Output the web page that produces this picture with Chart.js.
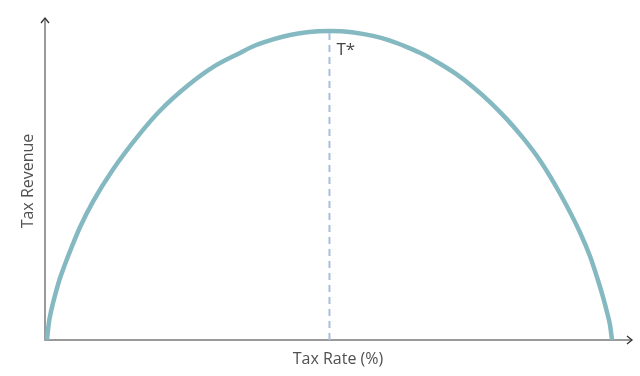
<!DOCTYPE html>
<html lang="en">
<head>
  <meta charset="UTF-8">
  <title>Laffer curve</title>
  <script src="https://cdn.jsdelivr.net/npm/chart.js"></script>
  <style>
    html, body { margin: 0; padding: 0; background: #fff; }
    .wrap { width: 640px; height: 376px; position: relative; }
  </style>
</head>
<body>
  <div class="wrap">
    <canvas id="mychart"></canvas>
  </div>
  <script>
    // tax rate (%) and revenue (% of peak)
    const taxRate = [0, 0.35, 0.71, 1.06, 1.59, 2.3, 3.19, 4.42, 5.84, 8.14, 11.68, 16.46, 20.0, 25.31, 29.38,
                     34.16, 36.81, 40.0, 43.01, 46.02, 47.96, 50.0, 52.04, 53.98, 57.7, 60.71, 63.72, 66.55,
                     69.56, 72.39, 75.4, 78.41, 81.42, 84.25, 87.26, 90.8, 94.34, 96.11, 97.35, 98.41, 99.12,
                     99.65, 100];
    const revenue = [0, 5.8, 9.2, 11.9, 15.6, 20.0, 24.5, 30.3, 36.5, 44.8, 55.2, 66.8, 74.2, 82.9, 88.3,
                     92.9, 95.3, 97.3, 98.7, 99.6, 99.9, 100, 99.9, 99.6, 98.4, 96.9, 94.8, 92.5,
                     89.4, 86.1, 81.9, 77.0, 71.4, 65.4, 58.1, 47.4, 34.8, 27.1, 20.3, 13.9, 9.0,
                     4.8, 0];
    const optimumRate = 50;
    const optimumLabel = 'T*';
    const xTitle = 'Tax Rate (%)';
    const yTitle = 'Tax Revenue';

    const curve = taxRate.map((x, i) => ({ x: x, y: revenue[i] }));
    const peak = [{ x: optimumRate, y: 0 }, { x: optimumRate, y: Math.max(...revenue) }];

    // axes with arrow heads, titles and the T* label
    const decor = {
      id: 'decor',
      beforeDatasetsDraw(chart) {
        const { ctx, chartArea: a } = chart;
        ctx.save();
        ctx.strokeStyle = '#7a7a7a';
        ctx.lineWidth = 1.5;
        ctx.beginPath();
        ctx.moveTo(a.left, a.top);
        ctx.lineTo(a.left, a.bottom);
        ctx.lineTo(a.right, a.bottom);
        ctx.stroke();

        ctx.strokeStyle = '#333';
        ctx.lineWidth = 1.3;
        ctx.beginPath();
        ctx.moveTo(a.left - 4, a.top + 5);
        ctx.lineTo(a.left, a.top);
        ctx.lineTo(a.left + 4, a.top + 5);
        ctx.moveTo(a.right - 5, a.bottom - 4);
        ctx.lineTo(a.right, a.bottom);
        ctx.lineTo(a.right - 5, a.bottom + 4);
        ctx.stroke();
        ctx.restore();
      },
      afterDatasetsDraw(chart) {
        const { ctx, chartArea: a, scales } = chart;
        ctx.save();
        ctx.fillStyle = '#505050';
        ctx.font = '16px "Open Sans", sans-serif';
        ctx.textAlign = 'center';
        ctx.textBaseline = 'middle';
        ctx.fillText(xTitle, 338, a.bottom + 19);

        ctx.save();
        ctx.translate(28, 181);
        ctx.rotate(-Math.PI / 2);
        ctx.fillText(yTitle, 0, 0);
        ctx.restore();

        ctx.fillStyle = '#444';
        ctx.font = '17px "Open Sans", sans-serif';
        ctx.textAlign = 'left';
        const px = scales.x.getPixelForValue(optimumRate);
        const py = scales.y.getPixelForValue(Math.max(...revenue));
        ctx.fillText(optimumLabel, px + 7, py + 19);
        ctx.restore();
      }
    };

    new Chart(document.getElementById('mychart'), {
      type: 'scatter',
      data: {
        datasets: [
          {
            data: curve,
            showLine: true,
            borderColor: '#85b9c2',
            borderWidth: 4.5,
            pointRadius: 0,
            cubicInterpolationMode: 'monotone',
            order: 2
          },
          {
            data: peak,
            showLine: true,
            borderColor: '#a9bedb',
            borderWidth: 2,
            borderDash: [7, 5],
            pointRadius: 0,
            order: 1
          }
        ]
      },
      options: {
        responsive: true,
        maintainAspectRatio: false,
        animation: false,
        layout: { padding: { left: 45, right: 8, top: 18, bottom: 36 } },
        scales: {
          x: { type: 'linear', display: false, min: -0.35, max: 103.54 },
          y: { type: 'linear', display: false, min: 0, max: 104.2 }
        },
        plugins: {
          legend: { display: false },
          tooltip: { enabled: false }
        }
      },
      plugins: [decor]
    });
  </script>
</body>
</html>
